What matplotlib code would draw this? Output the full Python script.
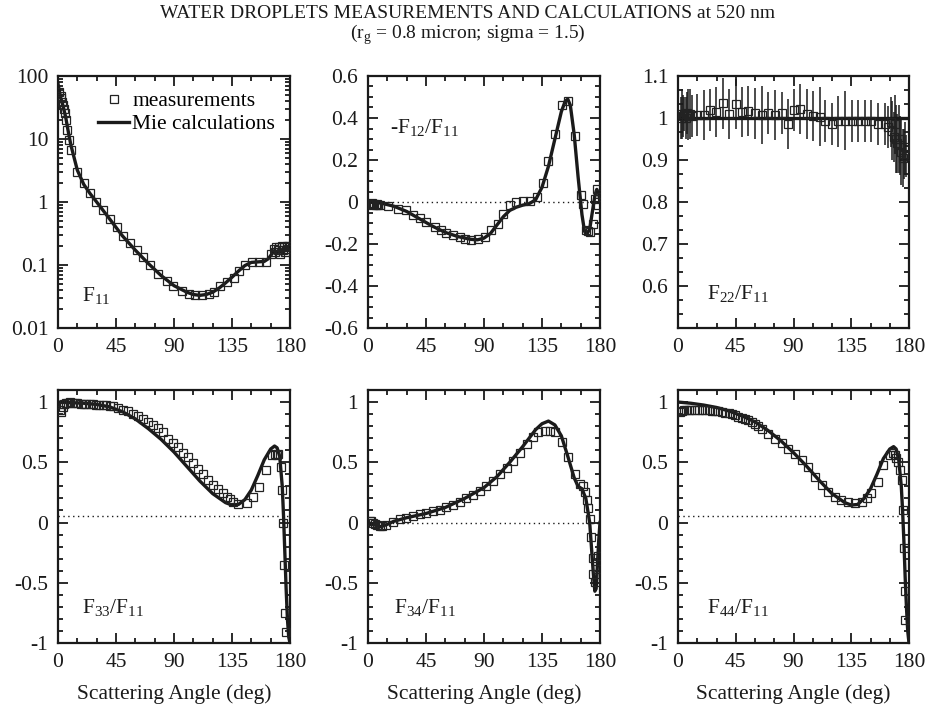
import numpy as np
import matplotlib
matplotlib.use("Agg")
import matplotlib.pyplot as plt
from matplotlib.ticker import MultipleLocator, FixedLocator, LogLocator, NullFormatter, FuncFormatter

plt.rcParams['font.family'] = ['Liberation Serif', 'DejaVu Serif']
plt.rcParams['mathtext.fontset'] = 'custom'
plt.rcParams['mathtext.rm'] = 'Liberation Serif'
plt.rcParams['axes.unicode_minus'] = False

# ---------------- data ----------------
title1 = "WATER DROPLETS MEASUREMENTS AND CALCULATIONS at 520 nm"
title2 = r"(r$_\mathregular{g}$ = 0.8 micron; sigma = 1.5)"
xlabel = "Scattering Angle (deg)"
xticks = [0, 45, 90, 135, 180]

# F11 (log scale)
f11_ang = [1, 2, 2.6, 3.2, 3.9, 4.6, 5.7, 6.5, 7.3, 8.3, 9.8, 15, 20.2, 24.6, 29.8, 35, 40.2, 45.4,
           50.6, 55.8, 61, 66.2, 71.4, 77.9, 84.4, 89.6, 96.1, 101.3, 106.5, 111.7, 116.9, 120.8,
           126, 131.1, 136.3, 140.2, 145.4, 150.6, 155.8, 161, 164.9, 167.5, 168.5, 169.5, 170.5,
           171.4, 172.5, 173.5, 174.5, 175.3, 176.5, 177.5, 178.5, 179.2]
f11_meas = [55, 48, 45, 38, 35, 30, 26, 20, 14, 9.8, 6.7, 3.0, 1.98, 1.37, 1.0, 0.74, 0.54, 0.40,
            0.29, 0.225, 0.17, 0.133, 0.101, 0.072, 0.056, 0.047, 0.039, 0.035, 0.0335, 0.0335, 0.035,
            0.0375, 0.047, 0.054, 0.063, 0.081, 0.101, 0.11, 0.11, 0.11, 0.15, 0.18, 0.16, 0.19, 0.17,
            0.19, 0.15, 0.20, 0.17, 0.19, 0.16, 0.20, 0.18, 0.20]
f11_mie_ang = [0, 2, 4, 6, 8, 10, 15, 20, 25, 30, 40, 50, 60, 70, 80, 90, 100, 105, 110, 115, 120,
               125, 130, 135, 140, 145, 150, 155, 160, 163, 166, 168, 170, 172, 174, 176, 178, 180]
f11_mie = [75, 46, 33, 22, 13, 8.0, 3.2, 1.9, 1.35, 1.0, 0.54, 0.29, 0.172, 0.106, 0.068, 0.047,
           0.037, 0.034, 0.033, 0.034, 0.037, 0.043, 0.052, 0.064, 0.08, 0.098, 0.11, 0.112, 0.114,
           0.125, 0.15, 0.17, 0.16, 0.18, 0.15, 0.19, 0.17, 0.18]

# -F12/F11
f12_ang = [1, 2, 3, 4, 5, 6, 7, 8, 9, 15.5, 23.3, 29.8, 35, 40, 45.3, 51.8, 57, 60.9, 66, 71.2, 75,
           80.3, 85.5, 90.6, 95.8, 101, 105, 110, 115, 120.4, 125.6, 130.8, 135.5, 139.9, 145, 150.2,
           155.4, 160.6, 165.2, 167, 169.1, 170.5, 172.2, 174.8, 176, 177.4, 178.2, 179]
f12_meas = [-0.008, -0.01, -0.006, -0.012, -0.008, -0.012, -0.01, -0.014, -0.016, -0.02, -0.032,
            -0.04, -0.063, -0.074, -0.095, -0.119, -0.134, -0.147, -0.158, -0.166, -0.174, -0.179,
            -0.175, -0.166, -0.134, -0.103, -0.055, -0.016, 0.0, 0.005, 0.005, 0.024, 0.09, 0.193,
            0.324, 0.463, 0.482, 0.313, 0.032, -0.008, -0.134, -0.14, -0.142, -0.103, 0.016, 0.063,
            -0.016, 0.04]
f12_mie_ang = [0, 10, 20, 30, 40, 50, 60, 70, 80, 85, 90, 95, 100, 105, 110, 115, 120, 125, 130,
               135, 140, 145, 150, 153, 155, 157, 160, 163, 166, 168, 170, 172, 174, 176, 177.5, 179, 180]
f12_mie = [0.0, -0.005, -0.02, -0.045, -0.08, -0.115, -0.145, -0.165, -0.178, -0.18, -0.172,
           -0.15, -0.11, -0.07, -0.04, -0.025, -0.015, -0.008, 0.01, 0.07, 0.17, 0.3, 0.43, 0.48,
           0.49, 0.46, 0.32, 0.12, -0.06, -0.14, -0.15, -0.13, -0.05, 0.03, 0.06, 0.04, 0.0]

# F22/F11
f22_ang = [2, 3, 4, 5, 6, 7, 8, 9.6, 11, 14.8, 20, 24.6, 29.8, 35, 40, 45.3, 49.7, 54.9, 60, 65.3,
           70.5, 75.6, 80.8, 85.5, 90, 95, 100.2, 105.4, 110.6, 114.5, 119.7, 124.8, 130, 135.2,
           140.4, 145.6, 150.7, 155.9, 161, 164, 166, 167, 168, 169, 170, 171, 172, 173, 174, 175,
           176, 177, 178]
f22_meas = [1.0, 1.01, 1.005, 1.01, 1.0, 1.012, 1.008, 1.01, 1.005, 1.007, 1.007, 1.019, 1.015,
            1.035, 1.009, 1.033, 1.015, 1.017, 1.011, 1.007, 1.011, 1.007, 1.011, 0.986, 1.019,
            1.021, 1.009, 1.005, 1.003, 0.994, 0.986, 0.992, 0.994, 0.994, 0.994, 0.994, 0.992,
            0.986, 0.986, 0.978, 0.99, 0.97, 0.955, 0.985, 0.95, 0.94, 0.95, 0.935, 0.92, 0.905,
            0.915, 0.93, 0.91]
f22_err = [0.05, 0.06, 0.05, 0.04, 0.05, 0.05, 0.06, 0.06, 0.05, 0.05, 0.06, 0.05, 0.06, 0.06, 0.06,
           0.06, 0.06, 0.06, 0.06, 0.07, 0.05, 0.06, 0.05, 0.06, 0.05, 0.06, 0.06, 0.06, 0.07, 0.05,
           0.05, 0.06, 0.07, 0.05, 0.05, 0.05, 0.05, 0.05, 0.05, 0.05, 0.06, 0.07, 0.06, 0.07, 0.08,
           0.07, 0.08, 0.07, 0.08, 0.07, 0.06, 0.06, 0.05]
f22_mie_ang = [0, 180]
f22_mie = [1.0, 1.0]

# F33/F11
f33_ang = [1.5, 2.6, 3.9, 5, 6.5, 8, 9, 11, 13, 15, 17.5, 20, 22, 24.5, 27, 29.5, 32, 35, 37.5, 40,
           42.7, 46.6, 50.5, 54.4, 58.3, 62.2, 66, 70, 73.8, 77.7, 81.6, 85.5, 89.4, 93.2, 97.1,
           101, 104.9, 108.8, 112.7, 116.5, 120.4, 124.3, 128.2, 130.8, 133.5, 136, 139.9, 146.3,
           151.5, 156.2, 161.1, 165.8, 168.3, 170, 171, 172.8, 173.5, 174.8, 175.3, 176.1, 176.9]
f33_meas = [0.93, 0.915, 0.96, 0.98, 0.99, 0.995, 1.0, 0.995, 0.99, 0.99, 0.985, 0.985, 0.98, 0.98,
            0.98, 0.978, 0.975, 0.975, 0.972, 0.968, 0.964, 0.953, 0.937, 0.923, 0.904, 0.882,
            0.862, 0.835, 0.807, 0.785, 0.752, 0.697, 0.656, 0.628, 0.579, 0.545, 0.496, 0.441,
            0.40, 0.353, 0.311, 0.275, 0.242, 0.215, 0.195, 0.174, 0.154, 0.165, 0.215, 0.297,
            0.435, 0.559, 0.567, 0.56, 0.565, 0.463, 0.27, 0.0, -0.355, -0.748, -0.909]
f33_mie_ang = [0, 10, 20, 30, 40, 50, 60, 70, 80, 90, 100, 110, 120, 130, 135, 140, 145, 150, 155,
               160, 165, 168, 170, 172, 174, 175, 176, 177, 178, 179, 180]
f33_mie = [1.0, 0.995, 0.99, 0.98, 0.96, 0.92, 0.86, 0.78, 0.69, 0.585, 0.465, 0.345, 0.24,
           0.165, 0.145, 0.15, 0.19, 0.27, 0.39, 0.52, 0.61, 0.635, 0.62, 0.55, 0.3, 0.05, -0.25,
           -0.55, -0.8, -0.95, -1.0]

# F34/F11
f34_ang = [1.3, 2.5, 4, 5.5, 7, 9, 11, 14.2, 19.4, 24.6, 29.8, 35, 40, 45.3, 50.5, 55.7, 60.9, 66,
           71.2, 76.4, 81.6, 86.8, 91.9, 97.1, 102.3, 107.5, 112.7, 117.8, 123, 128.2, 132.1, 137.3,
           141.2, 145, 150.2, 155.4, 160.6, 164.5, 167, 168.3, 169.6, 170.9, 172.2, 173, 174.3,
           174.8, 175.9, 177.4, 178.2]
f34_meas = [0.013, 0.01, 0.0, -0.01, -0.02, -0.027, -0.025, -0.02, 0.005, 0.027, 0.04, 0.053,
            0.067, 0.08, 0.094, 0.107, 0.126, 0.147, 0.168, 0.2, 0.227, 0.259, 0.307, 0.348, 0.401,
            0.455, 0.508, 0.575, 0.655, 0.709, 0.749, 0.762, 0.762, 0.749, 0.668, 0.548, 0.401,
            0.321, 0.307, 0.254, 0.187, 0.12, 0.027, -0.12, -0.294, -0.428, -0.495, -0.388, -0.28]
f34_mie_ang = [0, 5, 10, 15, 20, 30, 45, 60, 75, 90, 100, 110, 120, 130, 135, 140, 145, 150, 155,
               160, 163, 166, 169, 172, 174, 175, 176, 177, 178, 179, 180]
f34_mie = [0.0, -0.02, -0.035, -0.015, 0.01, 0.04, 0.075, 0.125, 0.2, 0.29, 0.38, 0.5, 0.63, 0.77,
           0.82, 0.842, 0.81, 0.72, 0.55, 0.37, 0.3, 0.28, 0.2, 0.0, -0.3, -0.45, -0.57, -0.55,
           -0.35, -0.15, 0.0]

# F44/F11
f44_ang = [1.8, 3, 4.4, 6, 8.3, 10.5, 13.5, 16, 18.6, 21, 23.8, 26.5, 29, 31.5, 34.2, 37, 39.4,
           42, 44.5, 47, 49.7, 52.5, 54.9, 57.5, 60, 62.5, 65.3, 70.4, 75.6, 80.8, 86, 91.2, 96.3,
           101.5, 106.7, 111.9, 117, 122.2, 127.4, 132.6, 137.8, 143, 146.9, 150.7, 155.9, 159.8,
           165, 167.6, 168.8, 170.2, 171.5, 172.7, 174.6, 175.3, 175.9, 176.6, 177.2]
f44_meas = [0.917, 0.925, 0.93, 0.935, 0.937, 0.935, 0.93, 0.93, 0.93, 0.93, 0.93, 0.928, 0.926,
            0.922, 0.917, 0.913, 0.909, 0.9, 0.89, 0.88, 0.87, 0.86, 0.848, 0.832, 0.815, 0.8,
            0.78, 0.738, 0.697, 0.656, 0.614, 0.567, 0.518, 0.457, 0.38, 0.311, 0.256, 0.215,
            0.187, 0.174, 0.165, 0.174, 0.201, 0.242, 0.339, 0.477, 0.559, 0.573, 0.56, 0.532,
            0.5, 0.435, 0.353, 0.105, -0.212, -0.57, -0.81]
f44_mie_ang = [0, 10, 20, 30, 40, 50, 60, 70, 80, 90, 100, 110, 120, 130, 135, 140, 145, 150, 155,
               160, 165, 168, 170, 172, 174, 175, 176, 177, 178, 179, 180]
f44_mie = [1.0, 0.99, 0.975, 0.955, 0.925, 0.885, 0.835, 0.765, 0.68, 0.58, 0.47, 0.35, 0.24,
           0.165, 0.145, 0.15, 0.2, 0.28, 0.4, 0.53, 0.61, 0.63, 0.61, 0.52, 0.3, 0.1, -0.15,
           -0.45, -0.7, -0.9, -1.0]

panel_labels = [r"$\mathregular{F_{11}}$", r"-$\mathregular{F_{12}/F_{11}}$",
                r"$\mathregular{F_{22}/F_{11}}$", r"$\mathregular{F_{33}/F_{11}}$",
                r"$\mathregular{F_{34}/F_{11}}$", r"$\mathregular{F_{44}/F_{11}}$"]
dotted_levels = [None, 0.0, None, 0.058, 0.0, 0.058]

# ---------------- figure ----------------
W, H = 929, 710
fig = plt.figure(figsize=(W / 100, H / 100), dpi=100)

lefts = [58, 368, 678]
widths = [232, 232, 231]
rows = [(76, 328), (390, 643)]

def make_ax(r, c):
    top, bot = rows[r]
    return fig.add_axes([lefts[c] / W, 1 - bot / H, widths[c] / W, (bot - top) / H])

INK = '#1a1a1a'
FS = 15.5

def style(ax):
    ax.set_xlim(0, 180)
    ax.xaxis.set_major_locator(FixedLocator(xticks))
    ax.xaxis.set_minor_locator(MultipleLocator(15))
    ax.tick_params(which='both', direction='in', top=True, right=True, colors=INK,
                   labelsize=FS, width=1.3)
    ax.tick_params(which='major', length=7, pad=7)
    ax.tick_params(which='minor', length=3.5)
    for s in ax.spines.values():
        s.set_linewidth(1.6)
        s.set_color(INK)

fmt = FuncFormatter(lambda v, p: "%g" % v)

sq = dict(marker='s', ms=5.5, mfc='none', mec='#222222', mew=0.9, ls='none')
mie = dict(color=INK, lw=2.4)

axes = []
for r in range(2):
    for c in range(3):
        ax = make_ax(r, c)
        style(ax)
        axes.append(ax)

# F11
ax = axes[0]
ax.set_yscale('log')
ax.set_ylim(0.01, 100)
ax.yaxis.set_major_locator(FixedLocator([0.01, 0.1, 1, 10, 100]))
ax.yaxis.set_minor_locator(LogLocator(base=10, subs=np.arange(2, 10)))
ax.yaxis.set_minor_formatter(NullFormatter())
ax.yaxis.set_major_formatter(fmt)
ax.plot(f11_mie_ang, f11_mie, **mie, label='Mie calculations', zorder=3)
ax.plot(f11_ang, f11_meas, **sq, label='measurements', zorder=4)
h, l = ax.get_legend_handles_labels()
ax.legend([h[1], h[0]], [l[1], l[0]], loc='upper left',
          bbox_to_anchor=((98 - 58) / 232, 1 - (91 - 76) / 252), frameon=False,
          fontsize=FS, handlelength=1.45, handletextpad=0.15, borderpad=0, borderaxespad=0,
          labelspacing=0.15)

# F12
ax = axes[1]
ax.set_ylim(-0.6, 0.6)
ax.yaxis.set_major_locator(MultipleLocator(0.2))
ax.yaxis.set_minor_locator(MultipleLocator(0.05))
ax.yaxis.set_major_formatter(fmt)
ax.plot(f12_mie_ang, f12_mie, **mie, zorder=3)
ax.plot(f12_ang, f12_meas, **sq, zorder=4)

# F22
ax = axes[2]
ax.set_ylim(0.5, 1.1)
ax.yaxis.set_major_locator(FixedLocator([0.6, 0.7, 0.8, 0.9, 1.0, 1.1]))
ax.yaxis.set_minor_locator(MultipleLocator(0.1 / 3))
ax.yaxis.set_major_formatter(fmt)
ax.plot(f22_mie_ang, f22_mie, **mie, zorder=3)
ax.errorbar(f22_ang, f22_meas, yerr=f22_err, fmt='none', ecolor=INK, elinewidth=1.1, zorder=2)
ax.plot(f22_ang, f22_meas, **sq, zorder=4)

# bottom row
for ax, ang, meas, mang, mval in [(axes[3], f33_ang, f33_meas, f33_mie_ang, f33_mie),
                                  (axes[4], f34_ang, f34_meas, f34_mie_ang, f34_mie),
                                  (axes[5], f44_ang, f44_meas, f44_mie_ang, f44_mie)]:
    ax.set_ylim(-1, 1.1)
    ax.yaxis.set_major_locator(FixedLocator([-1, -0.5, 0, 0.5, 1]))
    ax.yaxis.set_minor_locator(MultipleLocator(0.1))
    ax.yaxis.set_major_formatter(fmt)
    ax.plot(mang, mval, **mie, zorder=3)
    ax.plot(ang, meas, **sq, zorder=4)
    ax.set_xlabel(xlabel, fontsize=FS, labelpad=9, color=INK)

for ax, lvl in zip(axes, dotted_levels):
    if lvl is not None:
        ax.axhline(lvl, color=INK, lw=1.0, ls=(0, (1, 2.5)), zorder=1)
for ax in axes:
    ax.xaxis.set_major_formatter(fmt)

# panel labels
label_pos = [(82, 296), (390, 128), (707, 293), (82, 607), (394, 607), (707, 607)]
for ax, lab, (px, py) in zip(axes, panel_labels, label_pos):
    fig.text(px / W, 1 - py / H, lab, fontsize=FS, color=INK, ha='left', va='center')

fig.text(468 / W, 1 - 13 / H, title1, ha='center', va='center', fontsize=14, color=INK)
fig.text(468 / W, 1 - 35 / H, title2, ha='center', va='center', fontsize=14, color=INK)

fig.savefig('out.png', dpi=100)
